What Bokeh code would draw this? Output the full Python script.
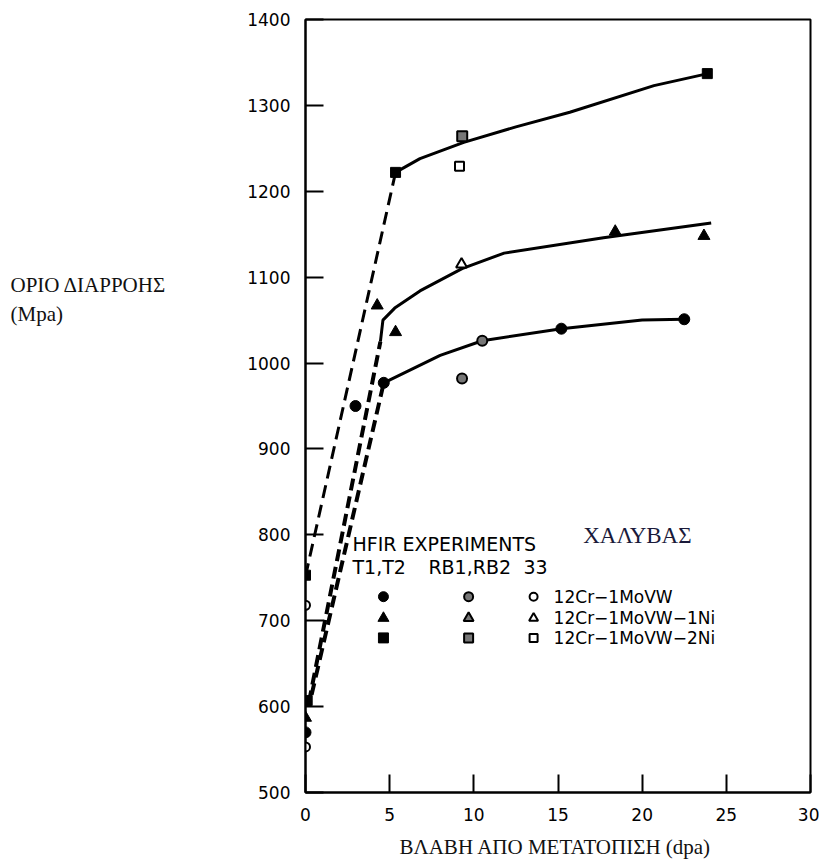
from bokeh.plotting import figure
from bokeh.models import Range1d, Label, FixedTicker
from bokeh.layouts import row
from bokeh.core.properties import value
from bokeh.embed import file_html
from bokeh.resources import INLINE

# ---------------- data ----------------
# 12Cr-1MoVW (circles)
circ_t_x = [0.0, 2.97, 4.65, 15.2, 22.5]
circ_t_y = [570, 950, 977, 1040, 1051]
circ_rb_x = [10.5, 9.3]
circ_rb_y = [1026, 982]
circ_33_x = [0.0, 0.0]
circ_33_y = [553, 718]

# 12Cr-1MoVW-1Ni (triangles)
tri_t_x = [0.0, 4.26, 5.35, 18.4, 23.67]
tri_t_y = [587, 1067, 1036, 1153, 1148]
tri_33_x = [9.27]
tri_33_y = [1115]

# 12Cr-1MoVW-2Ni (squares)
sq_t_x = [0.0, 0.1, 5.35, 23.87]
sq_t_y = [753, 607, 1222, 1337]
sq_rb_x = [9.31]
sq_rb_y = [1264]
sq_33_x = [9.15]
sq_33_y = [1229]

# fitted curves (solid)
top_x = [5.35, 6.8, 9.4, 12.5, 15.7, 20.7, 23.9]
top_y = [1222, 1238, 1257, 1275, 1292, 1323, 1337]
mid_x = [4.45, 4.6, 5.3, 6.8, 9.3, 11.8, 17.7, 24.1]
mid_y = [1025, 1050, 1064, 1084, 1110, 1128, 1146, 1163]
bot_x = [4.65, 8.0, 10.5, 15.2, 20.0, 22.5]
bot_y = [977, 1009, 1026, 1040, 1050, 1051]

# dashed extrapolations to zero dose
dtop_x = [0.0, 5.35]
dtop_y = [752, 1222]
dmid_x = [0.2, 4.45]
dmid_y = [605, 1025]
dbot_x = [0.2, 4.65]
dbot_y = [600, 977]

x_ticks = [0, 5, 10, 15, 20, 25, 30]
y_ticks = [500, 600, 700, 800, 900, 1000, 1100, 1200, 1300, 1400]

legend_rows = ["12Cr\u22121MoVW", "12Cr\u22121MoVW\u22121Ni", "12Cr\u22121MoVW\u22122Ni"]
y_title = ["\u039f\u03a1\u0399\u039f \u0394\u0399\u0391\u03a1\u03a1\u039f\u0397\u03a3", "(Mpa)"]
x_title = "\u0392\u039b\u0391\u0392\u0397 \u0391\u03a0\u039f \u039c\u0395\u03a4\u0391\u03a4\u039f\u03a0\u0399\u03a3\u0397  (dpa)"
steel = "\u03a7\u0391\u039b\u03a5\u0392\u0391\u03a3"

SANS = "DejaVu Sans"
SERIF = "Liberation Serif"
H = 866
LEFT_W = 200

# ---------------- left strip holding the horizontal y title ----------------
t = figure(width=LEFT_W, height=H, output_backend="svg", toolbar_location=None,
           x_range=Range1d(0, LEFT_W), y_range=Range1d(H, 0),
           min_border=0, x_axis_location=None, y_axis_location=None)
t.outline_line_color = None
t.grid.visible = False
t.text(x=[10, 10], y=[298, 330], text=y_title, text_font=value(SERIF),
       text_font_size="21px", text_baseline="middle", text_align="left",
       text_color="#111111")

# ---------------- main chart ----------------
p = figure(width=619, height=H, output_backend="svg", toolbar_location=None,
           x_range=Range1d(0, 30), y_range=Range1d(500, 1400),
           min_border_left=105, min_border_right=9, min_border_top=19,
           min_border_bottom=74)
p.grid.visible = False
p.outline_line_color = "black"
p.outline_line_width = 2

for ax in (p.xaxis[0], p.yaxis[0]):
    ax.axis_line_width = 2
    ax.axis_line_color = "black"
    ax.major_tick_in = 18
    ax.major_tick_out = 0
    ax.major_tick_line_width = 2
    ax.minor_tick_line_color = None
    ax.major_label_text_font = SANS
    ax.major_label_text_font_size = "17px"
    ax.major_label_text_color = "black"
p.xaxis[0].ticker = FixedTicker(ticks=x_ticks)
p.yaxis[0].ticker = FixedTicker(ticks=y_ticks)
p.xaxis[0].major_label_standoff = 15
p.yaxis[0].major_label_standoff = 15
p.xaxis[0].axis_label = x_title
p.xaxis[0].axis_label_text_font = SERIF
p.xaxis[0].axis_label_text_font_size = "21px"
p.xaxis[0].axis_label_text_font_style = "normal"
p.xaxis[0].axis_label_text_color = "#111111"
p.xaxis[0].axis_label_standoff = 11

# dashed lines
p.line(dtop_x, dtop_y, line_color="black", line_width=3, line_dash="13 7")
p.line(dmid_x, dmid_y, line_color="black", line_width=4, line_dash="12 6")
p.line(dbot_x, dbot_y, line_color="black", line_width=4, line_dash="12 6", line_dash_offset=6)

# solid curves
for cx, cy in ((top_x, top_y), (mid_x, mid_y), (bot_x, bot_y)):
    p.line(cx, cy, line_color="black", line_width=3)

# markers
p.scatter(circ_t_x, circ_t_y, marker="circle", size=11, fill_color="black", line_color="black")
p.scatter(circ_rb_x, circ_rb_y, marker="circle", size=10, fill_color="#777777", line_color="black", line_width=2)
p.scatter(circ_33_x, circ_33_y, marker="circle", size=9, fill_color="white", line_color="black", line_width=2)
p.scatter(tri_t_x, tri_t_y, marker="triangle", size=12, fill_color="black", line_color="black")
p.scatter(tri_33_x, tri_33_y, marker="triangle", size=11, fill_color="white", line_color="black", line_width=2)
p.scatter(sq_t_x, sq_t_y, marker="square", size=10, fill_color="black", line_color="black")
p.scatter(sq_rb_x, sq_rb_y, marker="square", size=10, fill_color="#777777", line_color="black", line_width=2)
p.scatter(sq_33_x, sq_33_y, marker="square", size=9, fill_color="white", line_color="black", line_width=2)

# legend block (drawn inside the plot)
col_x = [4.63, 9.69, 13.55]
row_y = [728, 703, 680]
markers = ["circle", "triangle", "square"]
for r, mk in enumerate(markers):
    sz = 10 if mk != "triangle" else 11
    p.scatter([col_x[0]], [row_y[r]], marker=mk, size=sz, fill_color="black", line_color="black")
    p.scatter([col_x[1]], [row_y[r]], marker=mk, size=sz - 1, fill_color="#777777", line_color="black", line_width=2)
    p.scatter([col_x[2]], [row_y[r]], marker=mk, size=sz - 2, fill_color="white", line_color="black", line_width=2)
    p.add_layout(Label(x=14.74, y=row_y[r], text=legend_rows[r], text_font=SANS,
                       text_font_size="17px", text_baseline="middle", text_color="black"))

p.add_layout(Label(x=2.79, y=789, text="HFIR EXPERIMENTS", text_font=SANS,
                   text_font_size="19px", text_baseline="middle", text_color="black"))
p.add_layout(Label(x=2.79, y=762, text="T1,T2", text_font=SANS,
                   text_font_size="19px", text_baseline="middle", text_color="black"))
p.add_layout(Label(x=7.3, y=762, text="RB1,RB2", text_font=SANS,
                   text_font_size="19px", text_baseline="middle", text_color="black"))
p.add_layout(Label(x=12.95, y=762, text="33", text_font=SANS,
                   text_font_size="19px", text_baseline="middle", text_color="black"))
p.add_layout(Label(x=16.5, y=799, text=steel, text_font=SERIF,
                   text_font_size="23px", text_baseline="middle", text_color="#1a1a3a"))

layout = row(t, p)
open("out.html", "w").write(file_html(layout, INLINE))
